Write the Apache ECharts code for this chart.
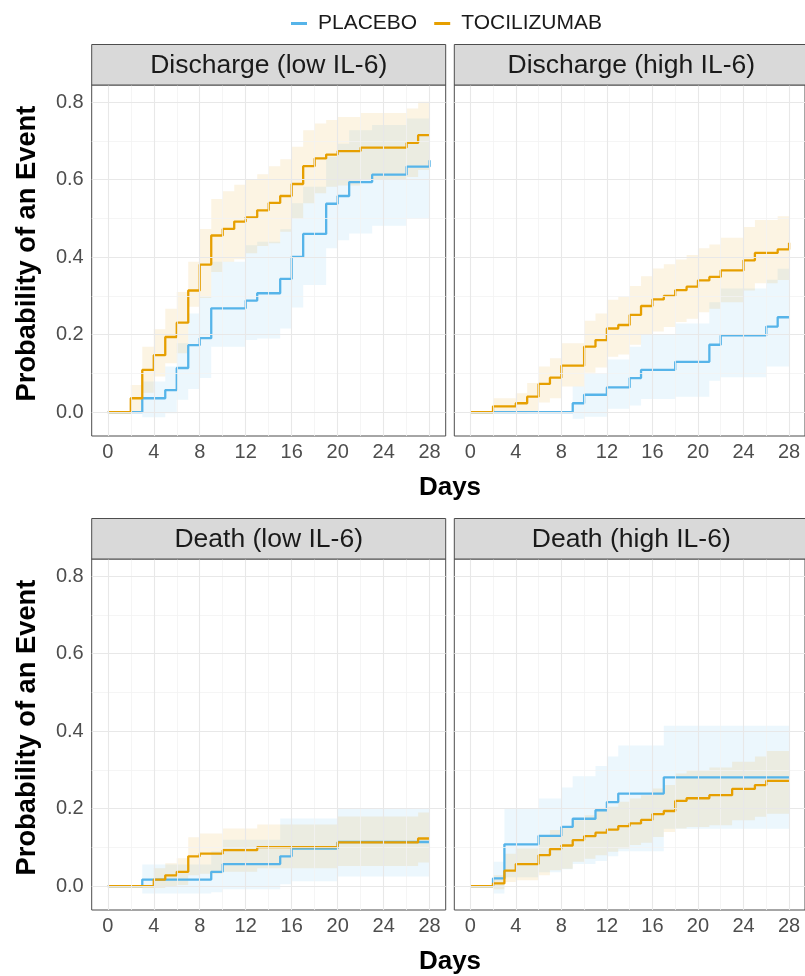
<!DOCTYPE html>
<html><head><meta charset="utf-8">
<script src="https://cdn.jsdelivr.net/npm/echarts@6/dist/echarts.min.js"></script>
<style>html,body{margin:0;padding:0;background:#fff}#c{width:805px;height:976px}</style>
</head><body><div id="c"></div>
<script>
// ---------------- DATA ----------------
const panelTitles = ['Discharge (low IL-6)', 'Discharge (high IL-6)', 'Death (low IL-6)', 'Death (high IL-6)'];
const groupNames = ['PLACEBO', 'TOCILIZUMAB'];
const xTicks = [0, 4, 8, 12, 16, 20, 24, 28];
const xMinorGrid = [2, 6, 10, 14, 18, 22, 26];
const yTicks = [0, 0.2, 0.4, 0.6, 0.8];
const yMinorGrid = [0.1, 0.3, 0.5, 0.7];

// Panel 1: Discharge (low IL-6)
const dlPlaceboDays  = [0, 3, 5, 6, 7, 8, 9, 12, 13, 15, 16, 17, 19, 20, 21, 23, 26, 28];
const dlPlaceboProb  = [0, 0.036, 0.057, 0.114, 0.173, 0.191, 0.268, 0.288, 0.307, 0.344, 0.401, 0.460, 0.538, 0.558, 0.594, 0.613, 0.634, 0.650];
const dlPlaceboLow   = [0, -0.013, -0.003, 0.032, 0.060, 0.088, 0.169, 0.186, 0.190, 0.216, 0.270, 0.328, 0.423, 0.444, 0.461, 0.481, 0.500, 0.500];
const dlPlaceboHigh  = [0, 0.079, 0.118, 0.178, 0.255, 0.298, 0.388, 0.431, 0.440, 0.472, 0.539, 0.582, 0.659, 0.693, 0.728, 0.741, 0.758, 0.760];
const dlTociDays     = [0, 2, 3, 4, 5, 6, 7, 8, 9, 10, 11, 12, 13, 14, 15, 16, 17, 18, 19, 20, 22, 26, 27, 28];
const dlTociProb     = [0, 0.036, 0.109, 0.147, 0.194, 0.231, 0.314, 0.381, 0.456, 0.473, 0.492, 0.503, 0.521, 0.540, 0.558, 0.589, 0.635, 0.655, 0.665, 0.674, 0.683, 0.695, 0.715, 0.715];
const dlTociLow      = [0, 0.003, 0.050, 0.092, 0.126, 0.152, 0.272, 0.295, 0.362, 0.388, 0.395, 0.410, 0.429, 0.436, 0.466, 0.500, 0.539, 0.565, 0.582, 0.585, 0.599, 0.607, 0.625, 0.625];
const dlTociHigh     = [0, 0.070, 0.169, 0.214, 0.267, 0.310, 0.388, 0.473, 0.550, 0.570, 0.587, 0.599, 0.614, 0.635, 0.653, 0.685, 0.728, 0.745, 0.754, 0.762, 0.772, 0.784, 0.801, 0.801];

// Panel 2: Discharge (high IL-6)
const dhPlaceboDays  = [0, 9, 10, 12, 14, 15, 18, 21, 22, 26, 27, 28];
const dhPlaceboProb  = [0, 0.023, 0.045, 0.064, 0.088, 0.109, 0.130, 0.174, 0.198, 0.221, 0.245, 0.245];
const dhPlaceboLow   = [0, -0.017, -0.012, 0.009, 0.017, 0.034, 0.040, 0.081, 0.090, 0.118, 0.118, 0.118];
const dhPlaceboHigh  = [0, 0.066, 0.100, 0.136, 0.169, 0.199, 0.229, 0.284, 0.319, 0.342, 0.370, 0.370];
const dhTociDays     = [0, 2, 4, 5, 6, 7, 8, 10, 11, 12, 13, 14, 15, 16, 17, 18, 19, 20, 21, 22, 24, 25, 27, 28];
const dhTociProb     = [0, 0.015, 0.023, 0.040, 0.073, 0.089, 0.120, 0.169, 0.186, 0.216, 0.225, 0.251, 0.274, 0.291, 0.300, 0.315, 0.324, 0.340, 0.349, 0.366, 0.392, 0.411, 0.420, 0.437];
const dhTociLow      = [0, -0.003, -0.003, 0.002, 0.025, 0.036, 0.066, 0.102, 0.115, 0.143, 0.149, 0.174, 0.199, 0.208, 0.220, 0.233, 0.241, 0.258, 0.267, 0.284, 0.314, 0.333, 0.341, 0.341];
const dhTociHigh     = [0, 0.036, 0.049, 0.075, 0.118, 0.139, 0.178, 0.236, 0.255, 0.290, 0.298, 0.326, 0.351, 0.371, 0.382, 0.394, 0.406, 0.423, 0.433, 0.450, 0.478, 0.496, 0.506, 0.506];

// Panel 3: Death (low IL-6)
const xlPlaceboDays  = [0, 3, 9, 10, 15, 16, 20, 28];
const xlPlaceboProb  = [0, 0.017, 0.037, 0.057, 0.077, 0.097, 0.114, 0.114];
const xlPlaceboLow   = [0, -0.019, -0.016, -0.008, 0.005, 0.013, 0.025, 0.025];
const xlPlaceboHigh  = [0, 0.056, 0.090, 0.120, 0.175, 0.175, 0.200, 0.200];
const xlTociDays     = [0, 4, 5, 6, 7, 8, 10, 13, 20, 27, 28];
const xlTociProb     = [0, 0.017, 0.028, 0.037, 0.077, 0.084, 0.093, 0.101, 0.113, 0.123, 0.123];
const xlTociLow      = [0, -0.005, 0.000, 0.003, 0.028, 0.032, 0.037, 0.046, 0.052, 0.061, 0.061];
const xlTociHigh     = [0, 0.046, 0.059, 0.072, 0.126, 0.136, 0.149, 0.159, 0.180, 0.190, 0.190];

// Panel 4: Death (high IL-6)
const xhPlaceboDays  = [0, 2, 3, 6, 8, 9, 11, 12, 13, 17, 28];
const xhPlaceboProb  = [0, 0.020, 0.108, 0.130, 0.153, 0.174, 0.196, 0.217, 0.239, 0.281, 0.281];
const xhPlaceboLow   = [0, -0.019, 0.023, 0.036, 0.044, 0.057, 0.065, 0.077, 0.090, 0.148, 0.148];
const xhPlaceboHigh  = [0, 0.063, 0.200, 0.226, 0.255, 0.284, 0.310, 0.335, 0.363, 0.414, 0.414];
const xhTociDays     = [0, 2, 3, 4, 6, 7, 8, 9, 10, 11, 12, 13, 14, 15, 16, 17, 18, 19, 21, 23, 25, 26, 28];
const xhTociProb     = [0, 0.007, 0.040, 0.057, 0.080, 0.096, 0.105, 0.119, 0.129, 0.138, 0.146, 0.155, 0.162, 0.171, 0.186, 0.194, 0.220, 0.227, 0.235, 0.251, 0.261, 0.272, 0.272];
const xhTociLow      = [0, -0.008, 0.011, 0.015, 0.028, 0.041, 0.045, 0.063, 0.071, 0.080, 0.089, 0.097, 0.106, 0.112, 0.127, 0.140, 0.149, 0.153, 0.157, 0.170, 0.179, 0.187, 0.187];
const xhTociHigh     = [0, 0.028, 0.084, 0.097, 0.127, 0.145, 0.153, 0.170, 0.183, 0.196, 0.205, 0.218, 0.226, 0.235, 0.252, 0.261, 0.291, 0.298, 0.306, 0.321, 0.335, 0.349, 0.349];

// ---------------- LAYOUT / STYLE ----------------
const FONT = '"Liberation Sans", Arial, Helvetica, sans-serif';
const COLORS = ['#56B4E9', '#E69F00'];
const BANDS = ['rgba(86,180,233,0.11)', 'rgba(230,159,0,0.11)'];
const X_MIN = -1.4, X_MAX = 29.4, Y_MIN = -0.0615, Y_MAX = 0.8445;
const COL_LEFT = [91.7, 454.3], ROW_TOP = [85, 559];
const PANEL_W = 354, PANEL_H = 351, STRIP_H = 40.5;

const panels = [
  { p: [dlPlaceboDays, dlPlaceboProb, dlPlaceboLow, dlPlaceboHigh], t: [dlTociDays, dlTociProb, dlTociLow, dlTociHigh] },
  { p: [dhPlaceboDays, dhPlaceboProb, dhPlaceboLow, dhPlaceboHigh], t: [dhTociDays, dhTociProb, dhTociLow, dhTociHigh] },
  { p: [xlPlaceboDays, xlPlaceboProb, xlPlaceboLow, xlPlaceboHigh], t: [xlTociDays, xlTociProb, xlTociLow, xlTociHigh] },
  { p: [xhPlaceboDays, xhPlaceboProb, xhPlaceboLow, xhPlaceboHigh], t: [xhTociDays, xhTociProb, xhTociLow, xhTociHigh] }
];

const grid = [], xAxis = [], yAxis = [], series = [], graphic = [];

panels.forEach((pn, i) => {
  const col = i % 2, row = Math.floor(i / 2);
  const left = COL_LEFT[col], top = ROW_TOP[row];
  grid.push({ left: left, top: top, width: PANEL_W, height: PANEL_H, show: true,
    borderColor: '#4d4d4d', borderWidth: 1, backgroundColor: '#ffffff', containLabel: false });
  xAxis.push({ type: 'value', gridIndex: i, min: X_MIN, max: X_MAX,
    axisLine: { show: false }, splitLine: { show: false },
    axisTick: { show: true, customValues: xTicks, length: 4, lineStyle: { color: '#333', width: 1 } },
    axisLabel: { show: true, customValues: xTicks, fontSize: 20, color: '#4D4D4D', fontFamily: FONT, margin: 6 } });
  yAxis.push({ type: 'value', gridIndex: i, min: Y_MIN, max: Y_MAX,
    axisLine: { show: false }, splitLine: { show: false },
    axisTick: { show: col === 0, customValues: yTicks, length: 4, lineStyle: { color: '#333', width: 1 } },
    axisLabel: { show: col === 0, customValues: yTicks, fontSize: 20, color: '#4D4D4D', fontFamily: FONT, margin: 8,
      formatter: v => v.toFixed(1) } });

  // gridlines (under everything)
  const ml = [];
  xMinorGrid.forEach(v => ml.push({ xAxis: v, lineStyle: { color: '#F3F3F3', width: 0.8, type: 'solid' } }));
  yMinorGrid.forEach(v => ml.push({ yAxis: v, lineStyle: { color: '#F3F3F3', width: 0.8, type: 'solid' } }));
  xTicks.forEach(v => ml.push({ xAxis: v, lineStyle: { color: '#E8E8E8', width: 1.1, type: 'solid' } }));
  yTicks.forEach(v => ml.push({ yAxis: v, lineStyle: { color: '#E8E8E8', width: 1.1, type: 'solid' } }));
  series.push({ type: 'line', name: 'grid' + i, xAxisIndex: i, yAxisIndex: i, data: [], z: 1, silent: true,
    markLine: { silent: true, symbol: ['none', 'none'], label: { show: false }, animation: false, data: ml } });

  // confidence ribbons (step-shaped polygons built through the axes' coordinate mapping)
  [pn.p, pn.t].forEach((arr, g) => {
    const [d, est, lo, hi] = arr;
    const rows = d.map((x, k) => [x, lo[k], hi[k]]);
    series.push({ type: 'custom', name: 'band' + i + g, xAxisIndex: i, yAxisIndex: i, z: 2, silent: true, clip: true,
      data: rows, encode: { x: 0, y: [1, 2] },
      renderItem: function (params, api) {
        if (params.dataIndex !== 0) return null;
        const upper = [], lower = [];
        for (let k = 0; k < rows.length; k++) {
          const [x, l, h] = rows[k];
          upper.push(api.coord([x, h]));
          lower.push(api.coord([x, l]));
          if (k < rows.length - 1) {
            const xn = rows[k + 1][0];
            upper.push(api.coord([xn, h]));
            lower.push(api.coord([xn, l]));
          }
        }
        return { type: 'polygon', shape: { points: upper.concat(lower.reverse()) },
          style: { fill: BANDS[g], stroke: null } };
      } });
  });
  // step lines
  [pn.p, pn.t].forEach((arr, g) => {
    const [d, est] = arr;
    series.push({ type: 'line', name: groupNames[g], xAxisIndex: i, yAxisIndex: i, step: 'end',
      symbol: 'none', z: 3, color: COLORS[g], lineStyle: { color: COLORS[g], width: 2.3 },
      emphasis: { disabled: true }, data: d.map((x, k) => [x, est[k]]) });
  });

  // strip
  graphic.push({ type: 'rect', shape: { x: left, y: top - STRIP_H, width: PANEL_W, height: STRIP_H },
    style: { fill: '#D9D9D9', stroke: '#4d4d4d', lineWidth: 1 }, z: 10 });
  graphic.push({ type: 'text', x: left + PANEL_W / 2, y: top - STRIP_H / 2 + 1,
    style: { text: panelTitles[i], font: '26.5px ' + FONT, fill: '#1A1A1A', textAlign: 'center', textVerticalAlign: 'middle' }, z: 11 });
});

// axis titles
[0, 1].forEach(row => {
  const top = ROW_TOP[row];
  graphic.push({ type: 'text', x: 450, y: top + PANEL_H + 52,
    style: { text: 'Days', font: 'bold 26px ' + FONT, fill: '#000', textAlign: 'center', textVerticalAlign: 'middle' } });
  graphic.push({ type: 'text', x: 27, y: top + PANEL_H / 2 - 7, rotation: Math.PI / 2,
    style: { text: 'Probability of an Event', font: 'bold 27.3px ' + FONT, fill: '#000', textAlign: 'center', textVerticalAlign: 'middle' } });
});

const chart = echarts.init(document.getElementById('c'), null, { renderer: 'canvas' });
chart.setOption({
  animation: false,
  backgroundColor: '#ffffff',
  legend: { data: groupNames, top: 8, left: 286, icon: 'rect', itemWidth: 16, itemHeight: 3, itemGap: 17,
    textStyle: { fontSize: 21, color: '#1A1A1A', fontFamily: FONT, padding: [0, 0, 0, 6] }, selectedMode: false },
  grid, xAxis, yAxis, series, graphic
});
</script></body></html>
